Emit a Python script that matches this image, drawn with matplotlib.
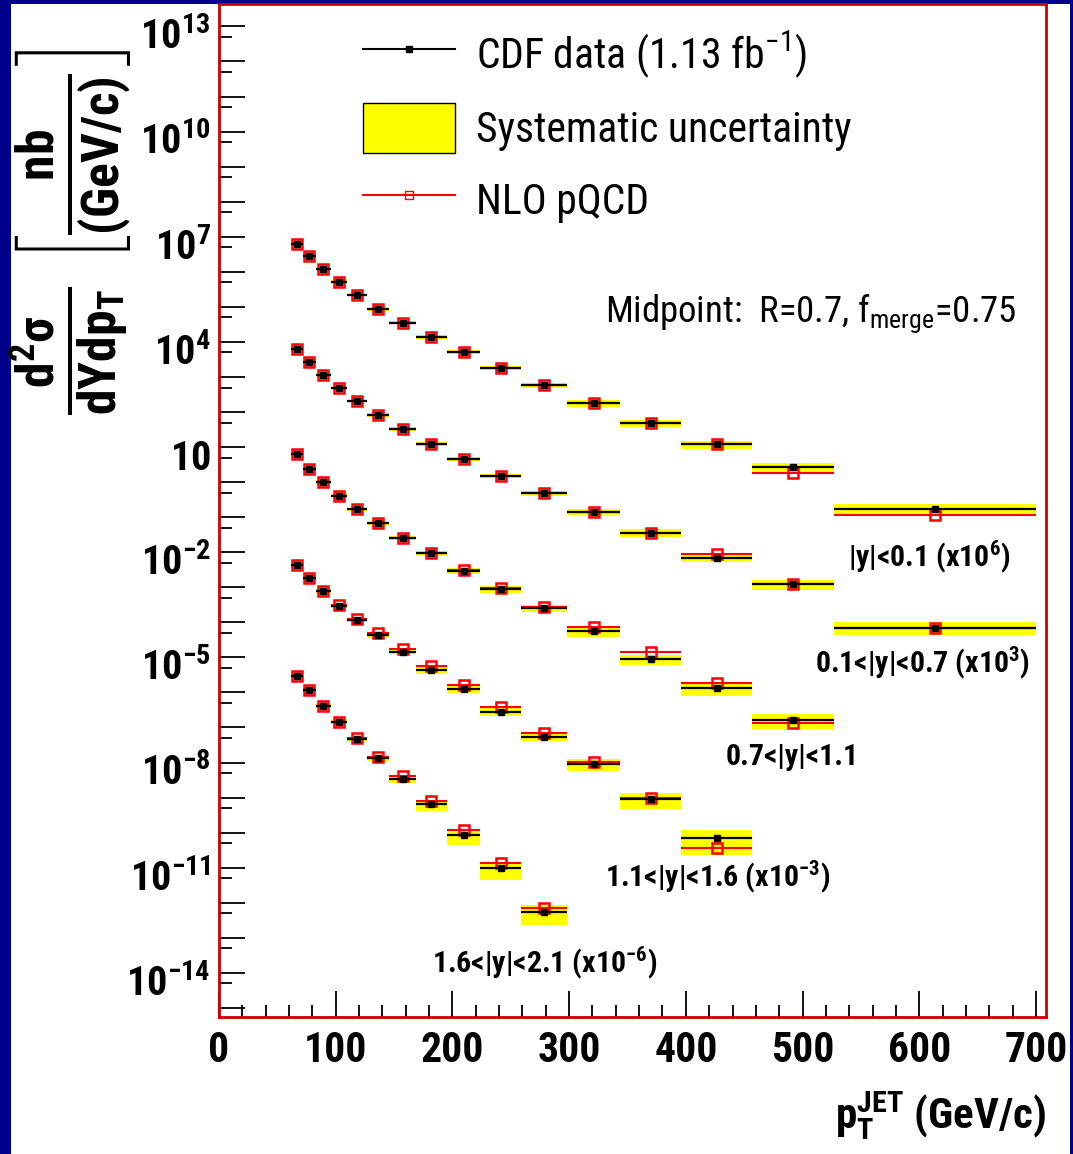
import numpy as np
import matplotlib
matplotlib.use('Agg')
import matplotlib.pyplot as plt
import matplotlib.transforms as mtransforms
from matplotlib.lines import Line2D
from matplotlib.patches import Patch, Rectangle
from matplotlib.ticker import FixedLocator, NullFormatter
from matplotlib import font_manager

# --- data (values already multiplied by the scale factor of each rapidity bin) ---
edges = [62, 72, 83, 96, 110, 127, 146, 169, 195, 224, 259, 298, 344, 396, 457, 527, 700]

y01_data = [6.25e6, 2.84e6, 1.19e6, 5.25e5, 2.19e5, 8.57e4, 3.56e4, 1.36e4, 5.19e3, 1.81e3,
            593, 178, 47.9, 12.0, 2.66, 0.175]
y01_nlo = [6.25e6, 2.84e6, 1.19e6, 5.25e5, 2.19e5, 8.57e4, 3.56e4, 1.36e4, 5.19e3, 1.81e3,
           593, 178, 47.9, 12.0, 1.87, 0.116]
y01_sys = [0.08, 0.08, 0.08, 0.09, 0.09, 0.10, 0.11, 0.12, 0.13, 0.15, 0.17, 0.20, 0.23, 0.27, 0.33, 0.40]

y07_data = [6310, 2640, 1120, 488, 207, 82.6, 33.0, 12.3, 4.50, 1.53, 0.482, 0.144, 0.0362,
            7.02e-3, 1.24e-3, 7.06e-5]
y07_nlo = [6310, 2640, 1120, 488, 207, 82.6, 33.0, 12.3, 4.50, 1.53, 0.482, 0.144, 0.0362,
           8.95e-3, 1.24e-3, 7.06e-5]
y07_sys = [0.08, 0.08, 0.08, 0.09, 0.09, 0.10, 0.11, 0.12, 0.13, 0.15, 0.17, 0.20, 0.23, 0.27, 0.32, 0.40]

y11_data = [6.38, 2.38, 0.993, 0.412, 0.169, 0.0671, 0.0251, 9.35e-3, 2.92e-3, 8.79e-4, 2.52e-4,
            5.61e-5, 9.04e-6, 1.32e-6, 1.64e-7]
y11_nlo = [6.38, 2.38, 0.993, 0.412, 0.169, 0.0671, 0.0255, 9.6e-3, 3.05e-3, 9.3e-4, 2.7e-4,
           7.53e-5, 1.40e-5, 1.91e-6, 1.32e-7]
y11_sys = [0.09, 0.09, 0.09, 0.10, 0.11, 0.12, 0.13, 0.15, 0.18, 0.22, 0.24, 0.30, 0.32, 0.40, 0.48]

y16_data = [4.35e-3, 1.81e-3, 7.87e-4, 2.99e-4, 1.17e-4, 4.29e-5, 1.46e-5, 4.30e-6, 1.23e-6,
            2.83e-7, 5.48e-8, 9.12e-9, 9.14e-10, 6.92e-11]
y16_nlo = [4.35e-3, 1.81e-3, 7.87e-4, 3.16e-4, 1.26e-4, 5.01e-5, 1.78e-5, 5.62e-6, 1.62e-6,
           3.89e-7, 6.76e-8, 1.05e-8, 9.77e-10, 3.59e-11]
y16_sys = [0.10, 0.10, 0.11, 0.12, 0.13, 0.15, 0.17, 0.20, 0.23, 0.26, 0.27, 0.38, 0.50, 0.67]

y21_data = [2.96e-6, 1.18e-6, 4.12e-7, 1.44e-7, 4.71e-8, 1.33e-8, 3.34e-9, 6.38e-10, 8.59e-11,
            9.64e-12, 5.57e-13]
y21_nlo = [2.96e-6, 1.18e-6, 4.12e-7, 1.44e-7, 5.01e-8, 1.45e-8, 4.15e-9, 8.02e-10, 1.19e-10,
           1.39e-11, 6.97e-13]
y21_sys = [0.10, 0.11, 0.12, 0.14, 0.16, 0.19, 0.20, 0.35, 0.50, 0.53, 0.59]

series_labels = [r'|y|<0.1 (x10$^{\mathbf{6}}$)',
                 r'0.1<|y|<0.7 (x10$^{\mathbf{3}}$)',
                 r'0.7<|y|<1.1',
                 r'1.1<|y|<1.6 (x10$^{\mathbf{-3}}$)',
                 r'1.6<|y|<2.1 (x10$^{\mathbf{-6}}$)']

# --- fonts: look for a narrow Helvetica-like family with a real bold face ---
bold_ok = {}
for f in font_manager.fontManager.ttflist:
    w = f.weight if isinstance(f.weight, int) else (700 if 'bold' in str(f.weight).lower() else 400)
    if w >= 700 and 'Italic' not in f.fname and 'Oblique' not in f.fname:
        bold_ok[f.name] = True
FONT = 'Liberation Sans'
for cand in ['Liberation Sans Narrow', 'Arial Narrow', 'Nimbus Sans Narrow', 'Roboto Condensed',
             'Archivo Narrow', 'Barlow Semi Condensed', 'Asap Condensed']:
    if cand in bold_ok:
        FONT = cand
        break
plt.rcParams['font.family'] = [FONT, 'DejaVu Sans']
plt.rcParams['mathtext.fontset'] = 'custom'
plt.rcParams['mathtext.rm'] = FONT
plt.rcParams['mathtext.it'] = FONT
plt.rcParams['mathtext.sf'] = FONT
plt.rcParams['mathtext.bf'] = FONT + ':bold'

W, H = 1073, 1154
fig = plt.figure(figsize=(W / 100, H / 100), dpi=100, facecolor='#00008b')
fig.patches.append(Rectangle((11 / W, 0), (1070 - 11) / W, 1 - 4 / H, transform=fig.transFigure,
                             facecolor='white', edgecolor='none', zorder=-10))
ax = fig.add_axes([219 / W, 1 - 1017 / H, (1046 - 219) / W, (1017 - 4) / H])
ax.set_facecolor('white')
ax.set_yscale('log')
ax.set_xlim(0, 708.6)
ax.set_ylim(10 ** -15.26, 10 ** 13.64)

edges = np.array(edges, dtype=float)
all_series = [(y01_data, y01_nlo, y01_sys), (y07_data, y07_nlo, y07_sys),
              (y11_data, y11_nlo, y11_sys), (y16_data, y16_nlo, y16_sys),
              (y21_data, y21_nlo, y21_sys)]

for data, nlo, sys in all_series:
    n = len(data)
    lo = edges[:n]
    hi = edges[1:n + 1]
    xc = 0.5 * (lo + hi)
    data = np.array(data)
    nlo = np.array(nlo)
    sys = np.array(sys)
    for i in range(n):
        ax.fill_between([lo[i], hi[i]], data[i] * (1 - sys[i]), data[i] * (1 + sys[i]),
                        color='#ffff00', lw=0, zorder=1)
    ax.hlines(nlo, lo, hi, color='red', lw=1.5, zorder=2)
    ax.plot(xc, nlo, ls='none', marker='s', ms=6.5, mfc='none', mec='red', mew=1.8, zorder=3)
    ax.hlines(data, lo, hi, color='black', lw=1.6, zorder=4)
    ax.plot(xc, data, ls='none', marker='s', ms=5, mfc='black', mec='black', zorder=5)

# series labels
lab_pos = [(609, 10 ** -2.13), (603, 10 ** -5.16), (491, 10 ** -7.84), (427, 10 ** -11.26), (279, 10 ** -13.72)]
for s, (lx, ly) in zip(series_labels, lab_pos):
    ax.text(lx, ly, s, ha='center', va='center', fontsize=21.5, fontweight='bold')

# axes style
decades = list(range(-15, 14))
ax.yaxis.set_major_locator(FixedLocator([10.0 ** k for k in decades]))
ylabels = []
for k in decades:
    if (k + 14) % 3:
        ylabels.append('')
    elif k == 1:
        ylabels.append(r'$\mathbf{10}$')
    else:
        ylabels.append(r'$\mathbf{10^{%d}}$' % k)
ax.set_yticklabels(ylabels)
ax.yaxis.set_minor_locator(FixedLocator([0.5 * 10.0 ** k for k in decades]))
ax.yaxis.set_minor_formatter(NullFormatter())
ax.set_xticks(range(0, 701, 100))
ax.set_xticklabels([str(v) for v in range(0, 701, 100)], fontweight='bold')
ax.set_xticks(range(0, 701, 20), minor=True)
ax.tick_params(axis='both', which='major', direction='in', length=19, width=1.3, color='black',
               top=False, right=False)
ax.tick_params(axis='both', which='minor', direction='in', length=9, width=1.3, color='black',
               top=False, right=False)
ax.tick_params(axis='y', which='major', labelsize=29, pad=6)
ax.tick_params(axis='x', which='major', labelsize=30, pad=9)
off = mtransforms.ScaledTranslation(0, -0.07, fig.dpi_scale_trans)
for t in ax.get_yticklabels():
    t.set_transform(t.get_transform() + off)
for sp in ax.spines.values():
    sp.set_color('#cc0000')
    sp.set_linewidth(2)

# axis titles
fig.text(1046 / W, 1 - 1128 / H, r'$\mathbf{p_{T}^{JET}}$ (GeV/c)', ha='right', va='baseline',
         fontsize=31, fontweight='bold')
fig.text(71 / W, 1 - 232 / H,
         r'$\mathbf{\frac{d^{2}\sigma}{dYdp_{T}}\;\left[\frac{nb}{(GeV/c)}\right]}$',
         rotation=90, ha='center', va='center', fontsize=53)

# legend
handles = [Line2D([0], [0], color='black', lw=1.5, marker='s', ms=5, mfc='black'),
           Patch(facecolor='#ffff00', edgecolor='black', lw=1),
           Line2D([0], [0], color='red', lw=1.5, marker='s', ms=6, mfc='none', mec='red')]
fig.legend(handles, ['CDF data (1.13 fb$^{-1}$)', 'Systematic uncertainty', 'NLO pQCD'],
           loc='upper left', bbox_to_anchor=(363 / W, 1 - 29 / H), frameon=False, fontsize=30,
           handlelength=2.2, handleheight=1.45, handletextpad=0.5, labelspacing=0.56,
           borderpad=0, borderaxespad=0)

fig.text(605 / W, 1 - 322 / H, r'Midpoint:  R=0.7, f$_{\rm merge}$=0.75', fontsize=26.5,
         va='baseline')

fig.savefig('out.png', dpi=100, facecolor=fig.get_facecolor())
